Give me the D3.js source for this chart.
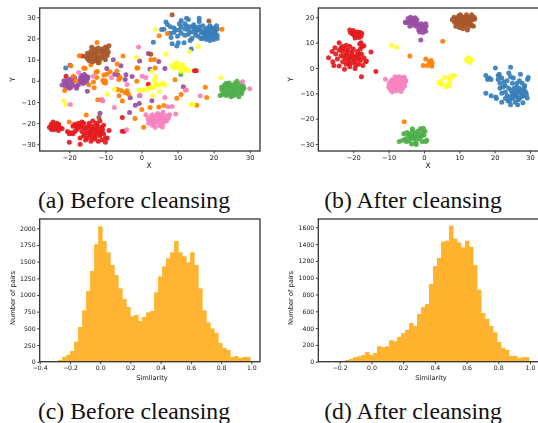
<!DOCTYPE html>
<html>
<head>
<meta charset="utf-8">
<script src="https://cdn.jsdelivr.net/npm/d3@7"></script>
<style>
  html, body { margin: 0; padding: 0; background: #fff; }
  svg { display: block; }
  .tick text { font-family: "DejaVu Sans", sans-serif; fill: #111; }
  .plot { filter: blur(0.45px); }
</style>
</head>
<body>
<script>
// scatter colours (Set1)
var classColors = ['#e41a1c', '#377eb8', '#4daf4a', '#984ea3', '#ff7f00', '#ffff33', '#a65628', '#f781bf'];

// (a) before cleansing, one list per class
var redA = [[-25.5,-22],[-25,-20.5],[-25,-22.8],[-24.5,-21.5],[-24.5,-19.5],[-24,-23],[-24,-21],[-23.5,-20],[-23.5,-22],[-23,-23.5],[-23,-21],[-22.5,-22.3],[-23,-20.5],[-22,-22.5],[-24.8,-23],[-20.5,-24],[-20,-25],[-20,-29],[-19.5,-24.5],[-19,-25],[-18.5,-24],[-19,-21.5],[-18.5,-20.5],[-18,-21],[-18,-22],[-17.5,-20],[-17,-27],[-17,-30],[-17,-22],[-16.5,-19.5],[-16.5,-24],[-16,-20],[-16,-22],[-16,-26],[-15.5,-28],[-15,-22],[-15,-24.5],[-15,-27],[-14.5,-20],[-14.5,-26],[-14,-23],[-14,-25],[-14,-28.5],[-13.5,-19],[-13.5,-21.5],[-13,-24],[-13,-26],[-13,-27.5],[-12.5,-20],[-12.5,-22.5],[-12.5,-25],[-12,-28.5],[-12,-24],[-11.5,-19],[-11.5,-26],[-11,-24],[-11,-22],[-11,-28],[-10.5,-21],[-10.5,-25],[-10,-27],[-10,-29],[-9.5,-27],[-9,-23.5],[-15.5,-23],[-14.7,-21.5],[-14.2,-24],[-13.7,-27],[-13.2,-22.8],[-12.8,-26.5],[-12.2,-21],[-11.8,-23],[-11.3,-25],[-15.8,-25],[-16.8,-21],[-17.8,-23],[-10.8,-23],[-20.9,2.2],[-16.5,11.7],[-5.3,-17.3],[-5.3,-23.8],[-4.8,-23.8],[1.9,-1.6],[14.7,4.7],[15.2,4.7]];
var blueA = [[3.3,18.2],[5.6,24.2],[6.2,24.4],[6.8,27.8],[7.2,26.6],[8,25.5],[8,22.5],[8.2,20.5],[8.5,17.5],[9,25],[9.5,24],[10,21],[10.2,18],[9.8,16.5],[10.5,27],[11,28.5],[11,25.5],[11,22.5],[12,27],[12,24.5],[12,21.5],[12.5,29.5],[13,29],[13,24],[13,22],[11.8,18],[13.5,19],[14,20],[14,23],[14.3,25.5],[14.5,26.5],[13.8,15],[15,23],[15,21.5],[15.5,24],[15.8,21],[16,29.5],[16,28],[16,25.5],[16.5,23],[16.5,20],[17,22.5],[17,26],[17.5,24],[17.5,21],[18,19.5],[18,23],[18.2,25],[18.5,21.5],[18.5,24],[19,19],[19,22],[19,26],[19.5,23.5],[19.5,20.5],[20,25],[20,22],[20,19.5],[20.5,23],[20.8,26],[21,24.5],[21,21.5],[21,20],[9,22.8],[10.5,24],[12.5,26],[13.5,25.5],[14.7,24.5],[15.2,25.2],[16.2,24.2],[17,20],[17.8,22],[18.3,20.5],[18.8,23],[19.3,24.8],[19.8,21.5],[20.3,24],[20.5,20.8],[-21,6.1]];
var greenA = [[21.8,-7],[22.2,-3],[22.3,-4.5],[22.5,-6.5],[23,-2],[23,-4],[23,-5.5],[23.5,-1.2],[23.5,-7],[24,-3],[24,-5],[24,-6.3],[24.3,-1],[24.5,-2.5],[24.8,-7.5],[25,-4],[25,-5.5],[25.3,-2],[25.5,-7],[25.8,-3.5],[26,-1],[26,-5],[26.2,-6.5],[26.5,-0.2],[26.5,-2.5],[26.8,-4],[27,-7.5],[27.2,-5.5],[27.5,-1.5],[27.5,-3],[27.8,-6],[28,-4.5],[28.2,-2.5],[28.4,-3.5],[10.9,3]];
var purpleA = [[-22,-2],[-21.5,0],[-21,-1],[-21,-3],[-20.5,-2],[-20.5,0.5],[-20,-3.5],[-20,-1],[-19.5,1],[-19.5,-3],[-19,-2],[-19,0],[-18.5,1.5],[-18,-2.5],[-18,-3.5],[-17.5,-2],[-17,0.5],[-16.8,1.8],[-16.5,-0.5],[-16.3,1],[-16,2.2],[-16,0],[-15.8,1.2],[-15.5,-0.3],[-15.3,2],[-15,0.7],[-16.5,2.5],[-17,-0.5],[-15.2,-0.8],[-14.8,1.8],[-15.8,3],[-16.2,-1.3],[-15,-4.9],[-7.8,9.9],[-5.7,7.1],[-0.5,9.4],[1.9,12.9],[4.8,9.1],[6.5,5.8],[2.4,5.4],[-19.8,7.4],[-9.6,5.8],[-7.4,3.1],[-6.5,2.7],[-4.3,2.8],[-4.5,0.6],[-2.6,2],[-3.1,-8],[-0.5,-7.1],[-1.7,-11.5],[-0.6,-10.7],[-3.3,-15],[-11.5,-15.3],[2.9,-9.4],[11.6,-2.8],[-11,-9.1]];
var orangeA = [[22.3,24.3],[4.9,21.3],[7.2,22.4],[-12.3,18.1],[-17.2,11.8],[-5.1,11.7],[-14,7.6],[-11.7,8.5],[-6.7,7.9],[-19.6,7.1],[-16,6],[-15.6,5.8],[-12.2,4.4],[-12.6,4],[-8.7,4.3],[-6.8,4.6],[-9.6,3.1],[-10.4,2.7],[-18.9,2.2],[-12.4,1.6],[-18.2,0],[-10.7,0.3],[-10,0],[-10.4,-0.8],[-13.3,-0.6],[-14.6,-1.9],[-13.1,-3.3],[-10,-1],[-5.9,1.6],[-6.3,0.6],[-21.3,-4.6],[-6.7,-4.1],[-5.5,-4.7],[-4.5,-5.6],[-3.6,-6.3],[-4,-4.7],[-6.2,-7.1],[-5.3,-9.6],[-12.1,-9],[-1.3,-0.2],[-1.3,6],[-1,6],[2.6,9.9],[3.6,10.1],[3.8,6],[9.3,0.5],[17.7,-3.1],[18.1,-7.9],[15.3,-11.5],[9.8,-8.3],[11,-6.5],[12.4,-4.4],[6.2,-11.7],[4.8,-12.4],[2.4,-12.6],[0.1,-13.5],[-1.8,-17.8],[0.6,-21.9],[-20,-19.5],[-15.3,-16.1]];
var yellowA = [[3.8,24.3],[13.3,13.7],[15.7,16.2],[-1.4,11],[6.8,12.6],[2.9,4.6],[8.5,6.8],[9,8],[9,6],[9.5,7],[9.8,8.5],[10,6.5],[10.3,7.8],[10.5,5.5],[10.8,7],[11,4.5],[11,6],[11.5,7.5],[11.5,5],[12,6],[12.5,5],[13,5],[22,1.4],[-9.5,-6.3],[-7.5,-4],[-21.6,-9.4],[-20.9,-11.2],[3.1,-6.9],[5,-5],[13.7,-11.2],[14.3,-11.3],[-0.7,-4.3],[0,-4.5],[0.8,-4.2],[1.5,-4],[2,-3.6],[2.6,-3],[3.2,-3.2],[3.8,-2.6],[3.8,-1.5],[3.7,-0.3],[3.8,1],[3.9,2],[5,-2],[5.6,-1.5],[6,-1],[6.5,-2]];
var brownA = [[-15.5,11.5],[-15,13],[-15,10.5],[-14.5,12],[-14.5,9.5],[-14,14],[-14,11],[-13.8,15.8],[-13.5,12.5],[-13.5,9],[-13,15],[-13,13],[-13,10.5],[-12.5,14],[-12.5,12],[-12.5,9.5],[-12,15.5],[-12,11],[-12,8.5],[-11.5,13.5],[-11.5,10],[-11,15],[-11,12],[-10.5,14],[-10.5,11],[-10,16],[-10,13],[-10,10],[-9.5,15],[-9.5,12],[-9.2,13.5],[-9,16.6],[8.5,31.2],[18.7,28.3],[2.6,12.6],[-11.8,-17.3]];
var pinkA = [[1.2,-16],[1.8,-18],[2,-20],[2.5,-17],[2.5,-18.8],[3,-16],[3,-21],[3,-19],[3.5,-17.5],[3.5,-20],[3.8,-22],[4,-16.5],[4,-18.5],[4.5,-19.5],[4.5,-15.5],[5,-17],[5,-21],[5,-18],[5.5,-19],[5.5,-16],[6,-17.5],[6,-20],[6,-14.8],[6.5,-18.5],[5.8,-21.8],[7,-16.5],[7,-19],[7.5,-17.5],[7.8,-16],[-0.8,16],[-17.4,3.9],[-13.3,2.2],[-8.3,1.6],[0.2,2.2],[1.2,1.6],[-4,-1.7],[12.2,-4.4],[16.3,-7.1],[28,-0.5],[30,-3.8],[-0.4,-7],[-11,-8.8],[-10.7,-9.6],[-7.5,-12.6],[-19.7,-11.2],[-4.1,-23.1],[6.5,-7.9],[8.5,-12.1],[7.3,-12.3],[9.5,-15.7]];

// (b) after cleansing, one list per class
var redB = [[-21,15],[-20.8,14],[-20.3,13.5],[-20,14.8],[-19.8,13],[-19.5,14],[-19.2,12.5],[-19,13.5],[-18.7,14.2],[-18.4,12],[-18.2,13],[-18,14],[-17.8,12.5],[-17.6,13.6],[-19.5,11.8],[-27,4],[-26,6.5],[-25.8,2.5],[-25.5,1],[-25.2,8],[-25,5.5],[-24.5,3.5],[-24,10],[-24,7],[-24,0.8],[-23.5,4.8],[-23,2.5],[-23,6.5],[-23,8.5],[-22.5,-0.5],[-22.2,3.5],[-22,5],[-22,1.5],[-22,9],[-21.5,7],[-21.5,3],[-21,4.5],[-21,0.5],[-21,8.5],[-20.5,2],[-20.5,5.5],[-20,3.5],[-20,7.5],[-19.5,-0.2],[-19.5,2.5],[-19,5],[-19,3.5],[-18.5,1.5],[-18.5,5.5],[-18.2,9.5],[-18,3],[-18,7.5],[-17.8,10],[-17.5,8.5],[-17.3,1],[-17,4],[-17,8.8],[-16.5,2.5],[-16.3,2.8],[-23.5,8],[-22.8,4.5],[-22.3,7.5],[-21.8,5.8],[-21.2,1.8],[-20.8,3.8],[-20.3,6.5],[-19.8,4.5],[-19.3,1.2],[-18.8,6.5],[-18.3,4],[-17.7,5.5],[-15,6.3],[-13.6,-1.4],[-17.7,-3.5]];
var blueB = [[17.5,-3],[17.5,-10],[18,-4.5],[18.5,-4],[19,-4.5],[19,-11],[20.2,0],[20.3,-11.5],[20.5,-12],[21,-3],[21,-4.5],[21.3,-2.5],[21.5,-6],[21.5,-8],[22,-4],[22,-10],[22,-13.5],[22.3,-7.5],[23,-7],[23,-9.5],[23,-12],[23.5,-5],[23.5,-11],[24,-2],[24,-8],[24.2,-13],[24.5,0.3],[24.5,-3.5],[24.5,-14.5],[25,-6],[25,-10],[25,-12],[25.3,-4],[25.5,-8],[25.8,-13.5],[26,-10],[26,-11.5],[26.3,-6],[26.5,-9],[26.5,-14.5],[27,-5],[27,-8],[27,-12],[27.3,-2.5],[27.5,-10],[27.8,-6],[28,-9],[28,-13.7],[28.2,-11],[28.5,-7],[28.8,-9.5],[29,-10.5],[29.3,-4.5],[29.5,-3.8],[29.2,-11.8],[24.7,-9],[25.3,-11],[25.7,-9.5],[26.2,-7.5],[26.7,-12.5],[27.2,-9.2],[27.7,-11.3],[26.3,-10.8],[24.3,-11.5],[23.8,-13],[22.6,-5.5],[28.3,-8]];
var greenB = [[-7,-29],[-6,-28.5],[-5.7,-26],[-5.3,-28],[-5,-29],[-4.8,-25.5],[-4.5,-27],[-4.2,-28.8],[-4,-26],[-3.5,-27.5],[-3.5,-30],[-3.2,-25],[-3.3,-24],[-2.8,-28],[-2.5,-26],[-2.3,-29.5],[-2.2,-30.2],[-2,-27],[-1.8,-25],[-1.5,-28],[-1.2,-26.2],[-1,-24],[-0.8,-27],[-0.5,-29],[-0.3,-25.5],[-0.2,-23.8],[0,-26.5],[0.3,-25],[0.5,-29],[0.8,-28.5],[-3,-26.8],[-2.6,-27.3],[-3.8,-27.2]];
var purpleB = [[-5.3,18],[-5,17.8],[-4.5,19.5],[-4.3,18],[-4,16.5],[-3.8,20],[-3.5,18.5],[-3.2,17],[-3,19.5],[-2.5,18],[-2.2,16.5],[-2.5,19.8],[-2,19],[-1.8,17.3],[-1.5,15],[-1.2,16.5],[-1.2,14.2],[-0.8,17.5],[-0.5,15.5],[-0.3,14],[0,17],[0.2,15.5],[0.5,14.5],[0.6,16.5],[0.5,17.5],[-3.8,18.8],[-3,18],[-0.6,16.3],[0,15.8],[-0.9,11]];
var orangeB = [[-4,4.7],[5.3,10.5],[0.5,3.5],[-0.2,1],[1,1],[1.5,2.5],[2,3],[2.2,0.7],[2.3,2],[-5.6,-21.2]];
var yellowB = [[-9.2,9],[-7.8,8.2],[12,3.3],[12.3,2.8],[12.5,4],[12.8,3],[13,2.2],[13.2,3.6],[13.5,3],[4.2,-5.5],[4.6,-6.2],[5,-5],[5.2,-6.5],[5.9,-3.7],[6.3,-7.5],[6.8,-6.5],[7,-7],[7.2,-5],[7.5,-4],[7.2,-6],[7.6,-3.2],[8.2,-3.2],[8.6,-3]];
var brownB = [[8,19],[8.5,20],[8.7,18],[9,16.5],[9.3,19.5],[9.5,17.5],[9.8,20.5],[10,18.5],[10,16],[10.3,21],[10.5,19],[10.7,17],[11,20],[11,15.5],[11.3,18],[11.5,16.5],[11.8,19.5],[12,21],[12,17.5],[12.3,15],[12.5,19],[12.8,16.5],[13,18],[13.2,20],[13.5,21],[13.5,17],[13.8,19],[14,16.5],[14.2,20],[14.4,19.3],[9.2,18.3],[10.2,17.8],[11,18.8],[11.8,18],[12.5,17.8],[13.2,18.8],[10.5,20.2],[12.3,20]];
var pinkB = [[-10.9,-4.4],[-10,-7.5],[-9.8,-6],[-9.5,-8.5],[-9.3,-5],[-9,-9.5],[-9,-7],[-8.8,-4.5],[-8.5,-6],[-8.5,-8],[-8.2,-3.5],[-8,-5],[-8,-7],[-7.8,-9],[-7.5,-6],[-7.5,-4],[-7.2,-8],[-7,-3.5],[-7,-5.5],[-6.8,-7],[-6.5,-9.3],[-6.3,-4],[-6.2,-6],[-6,-8],[-5.8,-5],[-5.6,-3.7],[-5.5,-7],[-5.3,-5.5],[-5.2,-4.8]];

// histogram (c): bin counts, first edge and bin width
var simBeforeStart = -0.331, simBeforeWidth = 0.02646;
var simBefore = [5,10,25,70,100,160,300,520,770,1060,1360,1760,2030,1810,1640,1450,1300,1100,940,820,680,700,610,670,740,760,1040,1280,1430,1550,1640,1810,1640,1580,1490,1640,1450,1100,770,590,500,430,280,205,175,70,85,55,70,70];
// histogram (d)
var simAfterStart = -0.267, simAfterWidth = 0.0252;
var simAfter = [5,5,5,8,20,35,55,65,80,115,80,105,185,175,185,255,245,295,340,380,460,425,570,650,685,925,1140,1235,1430,1440,1620,1465,1420,1360,1440,1370,1150,855,580,510,425,350,235,165,140,70,70,45,55,55];

var xTicksA = [-20,-10,0,10,20,30], yTicksA = [-30,-20,-10,0,10,20,30];
var xTicksB = [-20,-10,0,10,20,30], yTicksB = [-30,-20,-10,0,10,20];
var xTicksC = [-0.4,-0.2,0,0.2,0.4,0.6,0.8,1], yTicksC = [0,250,500,750,1000,1250,1500,1750,2000];
var xTicksD = [-0.2,0,0.2,0.4,0.6,0.8,1], yTicksD = [0,200,400,600,800,1000,1200,1400,1600];

var svg = d3.select('body').append('svg').attr('width', 538).attr('height', 423);

function axes(g, x, y, xTicks, yTicks, xFmt, yFmt, fontSize, box) {
  var ax = g.append('g').attr('transform', 'translate(0,' + box.bottom + ')')
    .call(d3.axisBottom(x).tickValues(xTicks).tickFormat(xFmt).tickSizeOuter(0).tickSize(2.5).tickPadding(1.5));
  var ay = g.append('g').attr('transform', 'translate(' + box.left + ',0)')
    .call(d3.axisLeft(y).tickValues(yTicks).tickFormat(yFmt).tickSizeOuter(0).tickSize(2.5).tickPadding(1.5));
  [ax, ay].forEach(function (a) {
    a.select('.domain').remove();
    a.selectAll('.tick text').style('font-size', fontSize + 'px');
    a.selectAll('.tick line').attr('stroke', '#111').attr('stroke-width', 0.8);
  });
  g.append('rect')
    .attr('x', box.left).attr('y', box.top)
    .attr('width', box.right - box.left).attr('height', box.bottom - box.top)
    .attr('fill', 'none').attr('stroke', '#333').attr('stroke-width', 1.3);
}

function label(g, txt, px, py, size, rot) {
  g.append('text')
    .attr('transform', 'translate(' + px + ',' + py + ')' + (rot ? ' rotate(-90)' : ''))
    .attr('text-anchor', 'middle')
    .style('font-family', '"DejaVu Sans", sans-serif')
    .style('font-size', size + 'px')
    .style('fill', '#111')
    .text(txt);
}

function caption(txt, cx, py) {
  svg.append('text')
    .attr('x', cx).attr('y', py)
    .attr('text-anchor', 'middle')
    .style('font-family', '"Liberation Serif", serif')
    .style('font-size', '23.7px')
    .style('fill', '#111')
    .text(txt);
}

function scatter(classes, box, xPx, yPx, xTicks, yTicks, xLabelX, yLabelX) {
  var g = svg.append('g').attr('class', 'plot');
  var x = d3.scaleLinear().domain(xPx.domain).range(xPx.range);
  var y = d3.scaleLinear().domain(yPx.domain).range(yPx.range);
  classes.forEach(function (c) {
    g.append('g').selectAll('circle')
      .data(c.points)
      .enter()
      .append('circle')
      .attr('cx', function (d) { return x(d[0]); })
      .attr('cy', function (d) { return y(d[1]); })
      .attr('r', 2.5)
      .attr('fill', c.color)
      .attr('fill-opacity', 0.92);
  });
  var fmt = d3.format('d');
  axes(g, x, y, xTicks, yTicks, function (d) { return fmt(d).replace('-', '\u2212'); },
    function (d) { return fmt(d).replace('-', '\u2212'); }, 6.7, box);
  label(g, 'X', xLabelX, 167.5, 7.5, false);
  label(g, 'Y', yLabelX, (box.top + box.bottom) / 2, 7.5, true);
}

function histogram(counts, start, width, box, xPx, yPx, xTicks, yTicks, xLabelX, yLabelX) {
  var g = svg.append('g').attr('class', 'plot');
  var x = d3.scaleLinear().domain(xPx.domain).range(xPx.range);
  var y = d3.scaleLinear().domain(yPx.domain).range(yPx.range);
  g.append('g').selectAll('rect')
    .data(counts)
    .enter()
    .append('rect')
    .attr('x', function (d, i) { return x(start + i * width); })
    .attr('width', x(start + width) - x(start) + 0.5)
    .attr('y', function (d) { return y(d); })
    .attr('height', function (d) { return y(0) - y(d); })
    .attr('fill', '#ffb32e');
  axes(g, x, y, xTicks, yTicks, function (d) { return d3.format('.1f')(d).replace('-', '\u2212'); },
    d3.format('d'), 6.2, box);
  label(g, 'Similarity', xLabelX, 380, 6.7, false);
  label(g, 'Number of pairs', yLabelX, 298, 6.7, true);
}

var classesA = [redA, blueA, greenA, purpleA, orangeA, yellowA, brownA, pinkA];
var classesB = [redB, blueB, greenB, purpleB, orangeB, yellowB, brownB, pinkB];
function tagged(lists) {
  return lists.map(function (p, i) { return { points: p, color: classColors[i] }; });
}

scatter(tagged(classesA), { left: 39.7, right: 260, top: 8, bottom: 151 },
  { domain: [-20, 30], range: [69.3, 249.7] }, { domain: [-30, 30], range: [144.3, 17.3] }, xTicksA, yTicksA, 149, 14.5);
scatter(tagged(classesB), { left: 318.3, right: 539, top: 8, bottom: 151 },
  { domain: [-20, 30], range: [353.3, 530] }, { domain: [-30, 20], range: [144, 17.3] }, xTicksB, yTicksB, 428, 292.5);

histogram(simBefore, simBeforeStart, simBeforeWidth, { left: 39.7, right: 260, top: 219, bottom: 361.7 },
  { domain: [-0.4, 1], range: [39.7, 251.3] }, { domain: [0, 2000], range: [361.7, 228.3] }, xTicksC, yTicksC, 152, 15);
histogram(simAfter, simAfterStart, simAfterWidth, { left: 318.3, right: 539, top: 219, bottom: 361.7 },
  { domain: [-0.2, 1], range: [339.7, 530] }, { domain: [0, 1600], range: [361.7, 227.3] }, xTicksD, yTicksD, 431, 293);

caption('(a) Before cleansing', 134, 208);
caption('(b) After cleansing', 413, 208);
caption('(c) Before cleansing', 134, 419);
caption('(d) After cleansing', 413, 419);
</script>
</body>
</html>
